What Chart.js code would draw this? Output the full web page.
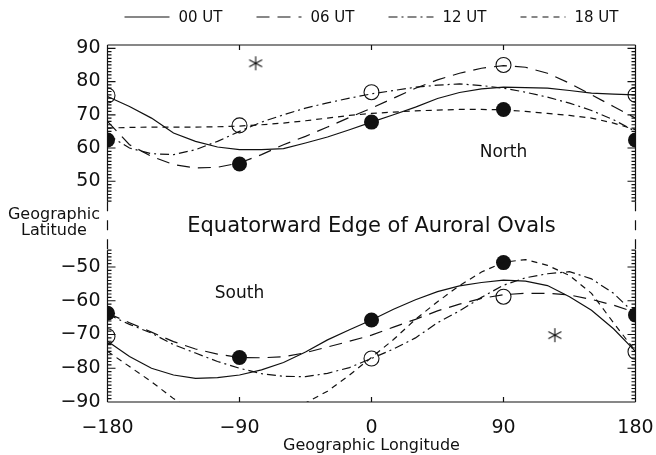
<!DOCTYPE html>
<html>
<head>
<meta charset="utf-8">
<title>Equatorward Edge of Auroral Ovals</title>
<script src="https://cdn.jsdelivr.net/npm/chart.js@4.4.1/dist/chart.umd.min.js"></script>
<style>
  html, body { margin: 0; padding: 0; background: #fff; }
</style>
</head>
<body>
<canvas id="ovalChart" width="656" height="455"></canvas>
<script>
// longitude grid of the traced curves
const lon = [-180, -165, -150, -135, -120, -105, -90, -75, -60, -45, -30, -15, 0, 15, 30, 45, 60, 75, 90, 105, 120, 135, 150, 165, 180];

// northern hemisphere, latitude of the equatorward edge
const north00 = [75.5, 72.5, 69, 64.5, 62, 60.3, 59.5, 59.5, 59.8, 61.5, 63.3, 65.5, 67.8, 70, 72.3, 74.9, 76.7, 77.8, 78.3, 78.2, 78, 77.3, 76.5, 76.2, 76];
const north06 = [68, 61, 57.5, 55, 54, 54.2, 55.5, 58, 61, 63.5, 66.3, 69.2, 72, 75, 78, 80.5, 82.5, 84, 84.8, 84.3, 82.5, 79.5, 76, 72.5, 69];
const north12 = [64, 60, 58.3, 58, 59.5, 62, 65, 67.8, 70, 72, 73.6, 75, 76.3, 77.3, 78.3, 78.9, 79.3, 78.8, 78, 76.8, 75.3, 73.5, 71.3, 68.5, 65];
const north18 = [66, 66.2, 66.3, 66.3, 66.3, 66.4, 66.6, 67, 67.5, 68.2, 69, 69.8, 70.4, 70.8, 71.2, 71.4, 71.6, 71.6, 71.5, 71, 70.4, 69.8, 69, 67.5, 65.5];

// southern hemisphere
const south00 = [-72, -76.5, -80, -82, -83, -82.8, -82, -80.5, -78.3, -75.2, -71.6, -68.6, -65.7, -62.5, -59.7, -57.3, -55.6, -54.6, -53.9, -54.2, -55.5, -58.8, -62.8, -68.3, -75];
const south06 = [-63.7, -66.5, -69.3, -72.1, -74.3, -75.8, -76.8, -76.9, -76.6, -75.4, -73.7, -72, -70.2, -67.8, -65.5, -63, -61, -59.3, -58.2, -57.8, -57.8, -58.3, -59.6, -61.3, -63.5];
const south12 = [-64, -67, -69.6, -73, -75.5, -78, -80, -81.6, -82.4, -82.5, -81.5, -79.8, -77.1, -74.3, -71, -66.5, -63, -59, -55.4, -53.2, -52, -51.4, -53.5, -57.8, -64];
const south18 = [-75, -79.5, -84, -89, -93, -95.5, -96.5, -95.5, -93.5, -90.3, -86.8, -82, -76.8, -71.5, -65.5, -60.3, -55.5, -51.5, -48.6, -47.8, -49.5, -52.5, -57.8, -66.5, -75];

// circle markers every 90 degrees
const markerLon = [-180, -90, 0, 90, 180];
const northFilled = [62.4, 55.2, 67.8, 71.6, 62.4];
const northOpen = [75.8, 66.8, 76.8, 85, 76];
const southFilled = [-63.7, -76.8, -65.7, -48.7, -64.2];
const southOpen = [-70.5, null, -77.1, -58.8, -75.1];

// asterisks (north, south)
const starLon = [-79, 125];
const starLat = [85.5, -70.2];

const utLabels = ['00 UT', '06 UT', '12 UT', '18 UT'];
const lonTicks = [-180, -90, 0, 90, 180];
const northTicks = [50, 60, 70, 80, 90];
const southTicks = [-90, -80, -70, -60, -50];

const ink = '#111';
const fontFam = "'DejaVu Sans', 'Liberation Sans', sans-serif";
const dashes = [[], [13, 8], [9, 4, 2, 4], [6, 5]];

function minus(v) {
  return v < 0 ? '\u2212' + Math.abs(v) : String(v);
}

function pts(ys) {
  return lon.map((x, i) => ({ x: x, y: ys[i] }));
}

function marks(ys) {
  return markerLon.map((x, i) => ({ x: x, y: ys[i] }));
}

function curve(label, ys, axis, k) {
  return {
    type: 'line', label: label, data: pts(ys), yAxisID: axis,
    borderColor: ink, borderWidth: 1.2, borderDash: dashes[k],
    pointRadius: 0, fill: false, tension: 0, clip: 0
  };
}

function circles(ys, axis, filled) {
  return {
    type: 'line', label: filled ? 'filled' : 'open', data: marks(ys), yAxisID: axis,
    showLine: false, pointRadius: 7.5, pointHoverRadius: 7.5,
    pointBackgroundColor: filled ? ink : 'rgba(0,0,0,0)',
    pointBorderColor: ink, pointBorderWidth: filled ? 0 : 1.1, clip: 0
  };
}

// six-spoke asterisk used for the two star markers
const star = document.createElement('canvas');
star.width = 16; star.height = 16;
const sc = star.getContext('2d');
sc.strokeStyle = ink; sc.lineWidth = 1.1;
sc.beginPath();
sc.moveTo(8, 1); sc.lineTo(8, 15);
sc.moveTo(1.5, 4.5); sc.lineTo(14.5, 11.5);
sc.moveTo(1.5, 11.5); sc.lineTo(14.5, 4.5);
sc.stroke();

function starSet(i, axis) {
  return {
    type: 'line', label: 'star', data: [{ x: starLon[i], y: starLat[i] }], yAxisID: axis,
    showLine: false, pointStyle: star, pointRadius: 8, clip: 0
  };
}

// frame, inward ticks, panel texts and the key
const framePlugin = {
  id: 'frame',
  afterDatasetsDraw(chart) {
    const ctx = chart.ctx;
    const area = chart.chartArea;
    const xs = chart.scales.x, yN = chart.scales.yN, yS = chart.scales.yS, yG = chart.scales.yGap;
    ctx.save();
    ctx.strokeStyle = ink;
    ctx.lineWidth = 1.2;
    ctx.beginPath();
    ctx.moveTo(area.left, area.top); ctx.lineTo(area.right, area.top);
    ctx.moveTo(area.left, area.bottom); ctx.lineTo(area.right, area.bottom);
    [area.left, area.right].forEach(x => {
      ctx.moveTo(x, yN.top); ctx.lineTo(x, yN.bottom);
      ctx.moveTo(x, yS.top); ctx.lineTo(x, yS.bottom);
    });
    lonTicks.forEach(v => {
      const px = xs.getPixelForValue(v);
      ctx.moveTo(px, area.top); ctx.lineTo(px, area.top + 5);
      ctx.moveTo(px, area.bottom); ctx.lineTo(px, area.bottom - 5);
    });
    [yN, yS].forEach(s => {
      for (let v = Math.ceil(s.min); v <= Math.floor(s.max); v++) {
        const py = s.getPixelForValue(v);
        const len = v % 10 === 0 ? 8 : 4;
        ctx.moveTo(area.left, py); ctx.lineTo(area.left + len, py);
        ctx.moveTo(area.right, py); ctx.lineTo(area.right - len, py);
      }
    });
    ctx.stroke();

    // dashed axis across the gap between the panels
    ctx.setLineDash([10, 9]);
    ctx.beginPath();
    [area.left, area.right].forEach(x => {
      ctx.moveTo(x, yG.top); ctx.lineTo(x, yG.bottom);
    });
    ctx.stroke();
    ctx.setLineDash([]);

    ctx.fillStyle = ink;
    ctx.textAlign = 'center';
    ctx.textBaseline = 'middle';
    const midGap = (yG.top + yG.bottom) / 2;
    ctx.font = '21px ' + fontFam;
    ctx.fillText('Equatorward Edge of Auroral Ovals', (area.left + area.right) / 2, midGap + 1);
    ctx.font = '16px ' + fontFam;
    ctx.fillText('Geographic', 54, midGap - 11);
    ctx.fillText('Latitude', 54, midGap + 5);
    ctx.font = '17px ' + fontFam;
    ctx.fillText('North', xs.getPixelForValue(90), yN.getPixelForValue(58.7));
    ctx.fillText('South', xs.getPixelForValue(-90), yS.getPixelForValue(-58));

    // key along the top
    ctx.font = '15px ' + fontFam;
    ctx.textAlign = 'left';
    const lineLen = 45, textGap = 9, itemGap = 34;
    const widths = utLabels.map(t => lineLen + textGap + ctx.measureText(t).width);
    const total = widths.reduce((a, b) => a + b, 0) + itemGap * (widths.length - 1);
    let x = (area.left + area.right) / 2 - total / 2;
    const keyY = 17;
    utLabels.forEach((t, i) => {
      const ds = chart.data.datasets[i];
      ctx.setLineDash(ds.borderDash);
      ctx.lineWidth = ds.borderWidth;
      ctx.beginPath();
      ctx.moveTo(x, keyY); ctx.lineTo(x + lineLen, keyY);
      ctx.stroke();
      ctx.setLineDash([]);
      ctx.fillText(t, x + lineLen + textGap, keyY + 1);
      x += widths[i] + itemGap;
    });
    ctx.restore();
  }
};

const yTickFont = { family: fontFam, size: 19 };

new Chart(document.getElementById('ovalChart'), {
  type: 'line',
  data: {
    datasets: [
      curve(utLabels[0], north00, 'yN', 0),
      curve(utLabels[1], north06, 'yN', 1),
      curve(utLabels[2], north12, 'yN', 2),
      curve(utLabels[3], north18, 'yN', 3),
      curve(utLabels[0], south00, 'yS', 0),
      curve(utLabels[1], south06, 'yS', 1),
      curve(utLabels[2], south12, 'yS', 2),
      curve(utLabels[3], south18, 'yS', 3),
      circles(northFilled, 'yN', true),
      circles(northOpen, 'yN', false),
      circles(southFilled, 'yS', true),
      circles(southOpen, 'yS', false),
      starSet(0, 'yN'),
      starSet(1, 'yS')
    ]
  },
  options: {
    responsive: false,
    animation: false,
    devicePixelRatio: 1,
    layout: { padding: { top: 45, right: 20.5, bottom: 0, left: 0 } },
    plugins: {
      legend: { display: false },
      tooltip: { enabled: false }
    },
    scales: {
      x: {
        type: 'linear', min: -180, max: 180,
        afterBuildTicks: s => { s.ticks = lonTicks.map(v => ({ value: v })); },
        afterFit: s => { s.height = 53; },
        // invisible tick marks only push the labels down
        grid: { display: false, drawTicks: true, tickLength: 14 },
        border: { display: false },
        ticks: { color: ink, font: yTickFont, padding: 1, maxRotation: 0, autoSkip: false, callback: v => minus(v) },
        title: { display: true, text: 'Geographic Longitude', color: ink, font: { family: fontFam, size: 16 }, padding: { top: 0, bottom: 0 } }
      },
      yN: {
        type: 'linear', position: 'left', stack: 'lat', stackWeight: 156.3, weight: 3,
        min: 44, max: 91,
        afterBuildTicks: s => { s.ticks = northTicks.map(v => ({ value: v })); },
        afterFit: s => { s.width = 107.5; },
        grid: { display: false, drawTicks: false },
        border: { display: false },
        ticks: { color: ink, font: yTickFont, padding: 7, autoSkip: false, callback: v => minus(v) }
      },
      yGap: {
        type: 'linear', position: 'left', stack: 'lat', stackWeight: 49, weight: 2,
        min: 0, max: 1,
        afterFit: s => { s.width = 107.5; },
        grid: { display: false, drawTicks: false },
        border: { display: false },
        ticks: { display: false }
      },
      yS: {
        type: 'linear', position: 'left', stack: 'lat', stackWeight: 152, weight: 1,
        min: -90, max: -45,
        afterBuildTicks: s => { s.ticks = southTicks.map(v => ({ value: v })); },
        afterFit: s => { s.width = 107.5; },
        grid: { display: false, drawTicks: false },
        border: { display: false },
        ticks: { color: ink, font: yTickFont, padding: 7, autoSkip: false, callback: v => minus(v) }
      }
    }
  },
  plugins: [framePlugin]
});
</script>
</body>
</html>
